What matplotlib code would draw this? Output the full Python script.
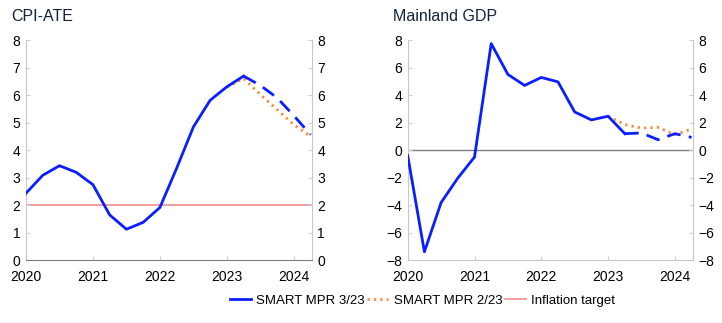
import numpy as np
import matplotlib.pyplot as plt
from matplotlib.lines import Line2D

plt.rcParams["font.family"] = ["Liberation Sans", "DejaVu Sans"]

quarters = np.arange(2020.0, 2024.26, 0.25)

# CPI-ATE, solid history to 2023Q2, dashed projection after
cpi_mpr323 = [2.43, 3.08, 3.43, 3.19, 2.74, 1.64, 1.12, 1.37, 1.91, 3.34,
              4.84, 5.81, 6.30, 6.69, 6.35, 5.90, 5.25, 4.56]
cpi_mpr223 = [6.28, 6.60, 6.02, 5.47, 4.92, 4.50]  # from 2023Q1

gdp_mpr323 = [-0.41, -7.40, -3.82, -2.04, -0.51, 7.74, 5.50, 4.70, 5.28, 4.96,
              2.77, 2.19, 2.46, 1.19, 1.24, 0.75, 1.19, 0.92]
gdp_mpr223 = [2.46, 1.85, 1.60, 1.65, 1.12, 1.53]  # from 2023Q1

inflation_target = 2.0

blue = "#0a1eff"
orange = "#f28e3c"
pink = "#f08c8c"
split = 13  # index of 2023Q2

fig = plt.figure(figsize=(7.22, 3.23), dpi=100)
ax1 = fig.add_axes([0.036, 0.195, 0.396, 0.681])
ax2 = fig.add_axes([0.5647, 0.195, 0.395, 0.681])


def style(ax, ylim, yticks, title):
    ax.set_xlim(2020, 2024.27)
    ax.set_ylim(*ylim)
    ax.set_yticks(yticks)
    ax.set_xticks([2020, 2021, 2022, 2023, 2024])
    ax.set_xticklabels(["2020", "2021", "2022", "2023", "2024"])
    ax.tick_params(axis="y", which="both", left=True, right=True, labelleft=True,
                   labelright=True, direction="in", length=3, color="#d0d0d0",
                   labelsize=10, pad=4)
    ax.tick_params(axis="x", direction="in", length=3, color="#d0d0d0",
                   labelsize=10, pad=7)
    for s in ["left", "right"]:
        ax.spines[s].set_color("#c8c8c8")
    ax.spines["top"].set_visible(False)
    ax.spines["bottom"].set_color("#808080")
    ax.set_title(title, loc="left", x=-0.05, fontsize=11.5, color="#14213d", pad=14)


q = quarters
ax1.axhline(inflation_target, color=pink, lw=1.2, zorder=1)
ax1.plot(q[:split + 1], cpi_mpr323[:split + 1], color=blue, lw=2, zorder=3)
ax1.plot(q[split:], cpi_mpr323[split:], color=blue, lw=2, ls=(0, (5, 3)), zorder=3)
ax1.plot(q[12:], cpi_mpr223, color=orange, lw=2, ls=(0, (0.8, 1.5)), zorder=2)
style(ax1, (0, 8), range(0, 9), "CPI-ATE")

ax2.axhline(0, color="#808080", lw=1, zorder=1)
ax2.plot(q[:split + 1], gdp_mpr323[:split + 1], color=blue, lw=2, zorder=3)
ax2.plot(q[split:], gdp_mpr323[split:], color=blue, lw=2, ls=(0, (5, 3)), zorder=3)
ax2.plot(q[12:], gdp_mpr223, color=orange, lw=2, ls=(0, (0.8, 1.5)), zorder=2)
style(ax2, (-8, 8), range(-8, 9, 2), "Mainland GDP")
ax2.spines["bottom"].set_color("#c8c8c8")

handles = [
    Line2D([], [], color=blue, lw=2),
    Line2D([], [], color=orange, lw=2, ls=(0, (0.8, 1.5))),
    Line2D([], [], color=pink, lw=1.2),
]
fig.legend(handles, ["SMART MPR 3/23", "SMART MPR 2/23", "Inflation target"],
           loc="center", bbox_to_anchor=(0.585, 0.07), ncol=3, frameon=False,
           fontsize=9.5, handlelength=1.6, handletextpad=0.4, columnspacing=0.2)

fig.savefig("out.png", dpi=100)
